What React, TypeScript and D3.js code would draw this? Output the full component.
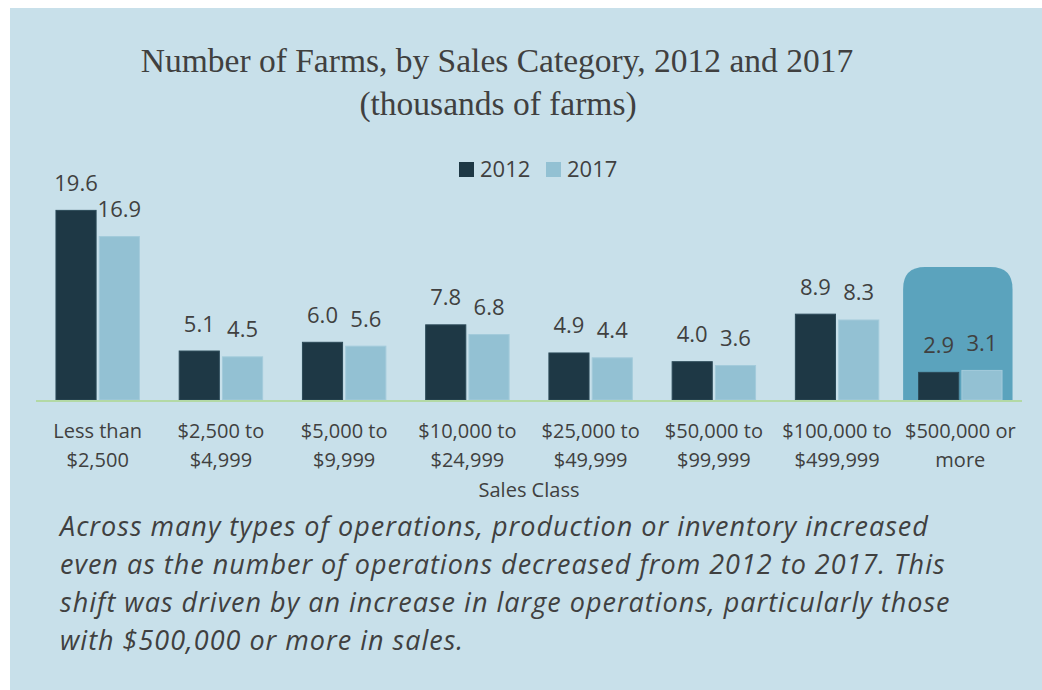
import React from "react";
import * as d3 from "d3";

const categories = [
  ["Less than", "$2,500"],
  ["$2,500 to", "$4,999"],
  ["$5,000 to", "$9,999"],
  ["$10,000 to", "$24,999"],
  ["$25,000 to", "$49,999"],
  ["$50,000 to", "$99,999"],
  ["$100,000 to", "$499,999"],
  ["$500,000 or", "more"],
];
const series2012 = [19.6, 5.1, 6.0, 7.8, 4.9, 4.0, 8.9, 2.9];
const series2017 = [16.9, 4.5, 5.6, 6.8, 4.4, 3.6, 8.3, 3.1];
const seriesNames = ["2012", "2017"];
const titleLines = ["Number of Farms, by Sales Category, 2012 and 2017", "(thousands of farms)"];
const axisTitle = "Sales Class";
const captionLines = [
  "Across many types of operations, production or inventory increased",
  "even as the number of operations decreased from 2012 to 2017. This",
  "shift was driven by an increase in large operations, particularly those",
  "with $500,000 or more in sales.",
];

const W = 1042;
const H = 690;
const BG = "#c8e0ea";
const DARK = "#1e3845";
const LIGHT = "#93c1d3";
const TEXT = "#404040";
const HIGHLIGHT = "#5ba3bd";

export default function App() {
  const plotLeft = 36;
  const plotRight = 1022;
  const baseY = 400;
  const x = d3
    .scaleBand<number>()
    .domain(d3.range(categories.length))
    .range([plotLeft, plotRight])
    .paddingInner(0.315)
    .paddingOuter(0.158);
  const xs = d3.scaleBand<string>().domain(seriesNames).range([0, x.bandwidth()]).paddingInner(0.05);
  const y = d3.scaleLinear().domain([0, 25]).range([baseY, 157.5]);
  const seriesVals = [series2012, series2017];
  const colors = [DARK, LIGHT];
  const strokes = ["#2c4a58", "#a3cbdb"];

  const hiIdx = categories.length - 1;
  const hiX0 = x(hiIdx)! - 15;
  const hiX1 = x(hiIdx)! + x.bandwidth() + 10;
  const hiTop = 267;
  const r = 22;
  const hiPath = `M${hiX0},${baseY} L${hiX0},${hiTop + r} Q${hiX0},${hiTop} ${hiX0 + r},${hiTop} L${hiX1 - r},${hiTop} Q${hiX1},${hiTop} ${hiX1},${hiTop + r} L${hiX1},${baseY} Z`;

  return (
    <svg width={W} height={H} style={{ position: "absolute", left: 0, top: 0 }}>
      <rect x={0} y={0} width={W} height={H} fill="#ffffff" />
      <rect x={10} y={8} width={W - 10} height={H - 8} fill={BG} />
      <text x={497} y={72} textAnchor="middle" fontFamily="'Liberation Serif', serif" fontSize={33.5} fill={TEXT}>
        {titleLines[0]}
      </text>
      <text x={498} y={115} textAnchor="middle" fontFamily="'Liberation Serif', serif" fontSize={33.5} fill={TEXT}>
        {titleLines[1]}
      </text>
      {/* legend */}
      {seriesNames.map((s, i) => {
        const lx = [459, 546][i];
        return (
          <g key={s}>
            <rect x={lx} y={162} width={15} height={15} fill={colors[i]} />
            <text x={lx + 21} y={177} fontFamily="'Open Sans', sans-serif" fontSize={22} fill={TEXT}>
              {s}
            </text>
          </g>
        );
      })}
      <path d={hiPath} fill={HIGHLIGHT} />
      {categories.map((c, i) =>
        seriesNames.map((s, j) => {
          const v = seriesVals[j][i];
          const bx = x(i)! + xs(s)!;
          const bw = xs.bandwidth();
          return (
            <g key={`${i}-${j}`}>
              <rect
                x={bx + 0.5}
                y={y(v) + 0.5}
                width={bw - 1}
                height={baseY - y(v) - 0.5}
                fill={colors[j]}
                stroke={strokes[j]}
                strokeWidth={1}
              />
              <text
                x={bx + bw / 2}
                y={y(v) - 19}
                textAnchor="middle"
                fontFamily="'Open Sans', sans-serif"
                fontSize={22}
                fill={TEXT}
              >
                {v.toFixed(1)}
              </text>
            </g>
          );
        })
      )}
      <line x1={plotLeft} x2={plotRight} y1={baseY + 1} y2={baseY + 1} stroke="#b3d9a5" strokeWidth={2} />
      {categories.map((c, i) => (
        <text
          key={i}
          x={x(i)! + x.bandwidth() / 2}
          textAnchor="middle"
          fontFamily="'Open Sans', sans-serif"
          fontSize={20}
          fill={TEXT}
        >
          <tspan x={x(i)! + x.bandwidth() / 2} y={438}>
            {c[0]}
          </tspan>
          <tspan x={x(i)! + x.bandwidth() / 2} y={467}>
            {c[1]}
          </tspan>
        </text>
      ))}
      <text x={529} y={497} textAnchor="middle" fontFamily="'Open Sans', sans-serif" fontSize={20} fill={TEXT}>
        {axisTitle}
      </text>
      {captionLines.map((l, i) => (
        <text
          key={i}
          x={60}
          y={536 + i * 38}
          fontFamily="'Open Sans', sans-serif"
          fontStyle="italic"
          fontSize={27}
          letterSpacing={1}
          fill={TEXT}
        >
          {l}
        </text>
      ))}
    </svg>
  );
}
